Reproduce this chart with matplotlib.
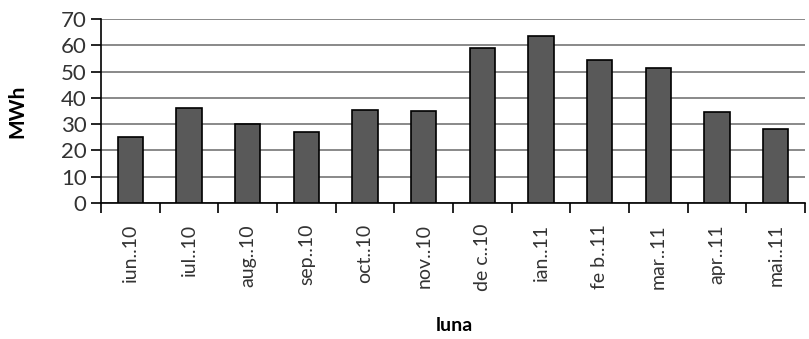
import matplotlib.pyplot as plt
import numpy as np

months = ["iun..10", "iul..10", "aug..10", "sep..10", "oct..10", "nov..10",
          "de c..10", "ian..11", "fe b..11", "mar..11", "apr..11", "mai..11"]
mwh = [25, 36, 30, 27, 35.5, 35, 59, 63.5, 54.5, 51.5, 34.5, 28]
yticks = [0, 10, 20, 30, 40, 50, 60, 70]

plt.rcParams['font.family'] = ['Lato', 'DejaVu Sans']

fig = plt.figure(figsize=(8.09, 3.39), dpi=100)
ax = fig.add_axes([0.125, 0.401, 0.87, 0.543])

x = np.arange(len(months))
ax.bar(x, mwh, width=0.43, color='#595959', edgecolor='black', linewidth=1.2, zorder=3)

ax.set_xlim(-0.5, len(months) - 0.5)
ax.set_ylim(0, 70)
ax.set_yticks(yticks)
ax.yaxis.grid(True, color='#808080', linewidth=1.3, zorder=0)

# boundaries get tick marks, centers get labels
ax.set_xticks(np.arange(len(months) + 1) - 0.5)
ax.set_xticklabels([])
ax.set_xticks(x, minor=True)
ax.set_xticklabels(months, minor=True, rotation=90, fontsize=14, color='#333333')
ax.tick_params(axis='x', which='major', length=7, width=1.2, direction='out')
ax.tick_params(axis='x', which='minor', length=0, pad=15)
ax.tick_params(axis='y', length=7, width=1.2, labelsize=16, colors='black', labelcolor='#333333')

for s in ['top', 'right']:
    ax.spines[s].set_visible(False)
for s in ['left', 'bottom']:
    ax.spines[s].set_linewidth(1.2)

ax.set_ylabel("MWh", fontsize=15, fontweight='bold', labelpad=24)
fig.text(0.562, 0.04, "luna", fontsize=14, fontweight='bold', ha='center', va='center')

fig.savefig('out.png', dpi=100)
